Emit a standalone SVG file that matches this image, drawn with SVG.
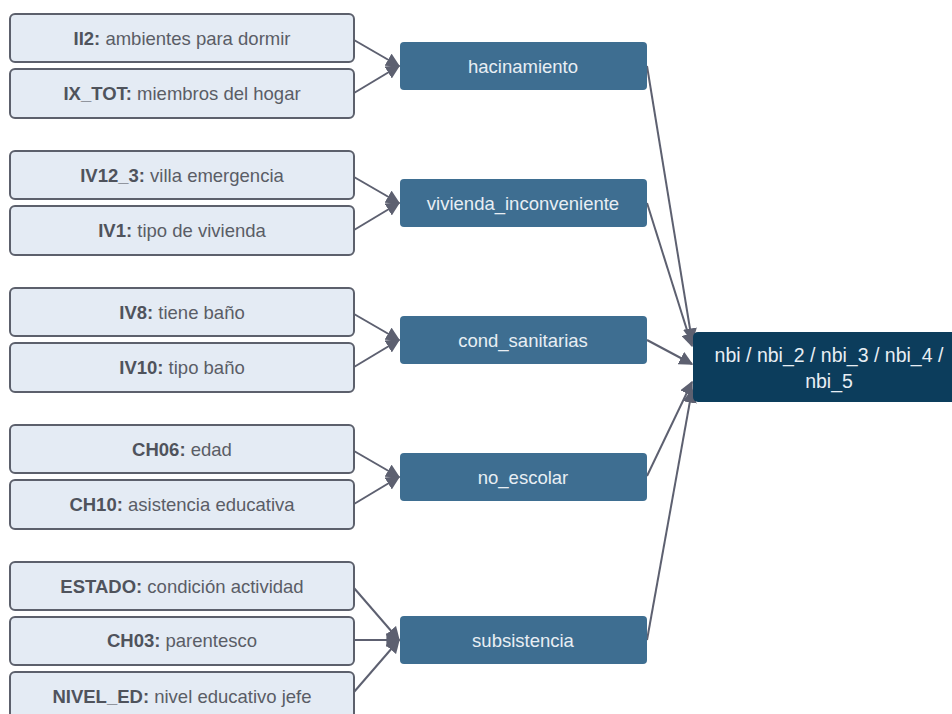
<svg xmlns="http://www.w3.org/2000/svg" width="952" height="714" viewBox="0 0 952 714">
<style>
.in rect{fill:#e4ebf4;stroke:#5c606c;stroke-width:2}
.in text{font-family:"Liberation Sans",Arial,sans-serif;font-size:18.5px;fill:#5a5d66;text-anchor:middle}
.in tspan.b{font-weight:bold;fill:#4f535c}
.mid rect{fill:#3e6e91}
.mid text{font-family:"Liberation Sans",Arial,sans-serif;font-size:18.5px;fill:#e8eef4;text-anchor:middle}
.fin text{font-family:"Liberation Sans",Arial,sans-serif;font-size:19.5px;fill:#e8eef4;text-anchor:middle}
.fin rect{fill:#0c3d5c}
.conn line{stroke:#5d6070;stroke-width:2;marker-end:url(#ah)}
</style>
<defs>
<marker id="ah" viewBox="0 0 10 10" refX="9" refY="5" markerWidth="7" markerHeight="7" orient="auto" markerUnits="strokeWidth">
<path d="M0,0 L10,5 L0,10 z" fill="#5d6070"/>
</marker>
</defs>
<rect width="952" height="714" fill="#ffffff"/>
<g class="conn">
<line x1="354" y1="40" x2="399" y2="66"/>
<line x1="354" y1="93" x2="399" y2="66"/>
<line x1="354" y1="177" x2="399" y2="203"/>
<line x1="354" y1="230" x2="399" y2="203"/>
<line x1="354" y1="314" x2="399" y2="340"/>
<line x1="354" y1="367" x2="399" y2="340"/>
<line x1="354" y1="451" x2="399" y2="477"/>
<line x1="354" y1="504" x2="399" y2="477"/>
<line x1="354" y1="588" x2="399" y2="640"/>
<line x1="354" y1="640" x2="399" y2="640"/>
<line x1="354" y1="692" x2="399" y2="640"/>
<line x1="647" y1="66" x2="692" y2="341"/>
<line x1="647" y1="203" x2="692" y2="346"/>
<line x1="647" y1="340" x2="692" y2="364"/>
<line x1="647" y1="476" x2="692" y2="382"/>
<line x1="647" y1="640" x2="692" y2="390"/>
</g>
<g id="n_ii2" class="in"><rect x="10" y="14" width="344" height="48" rx="5"/><text x="182" y="45"><tspan class="b">II2:</tspan> ambientes para dormir</text></g>
<g id="n_ixtot" class="in"><rect x="10" y="69" width="344" height="49" rx="5"/><text x="182" y="100"><tspan class="b">IX_TOT:</tspan> miembros del hogar</text></g>
<g id="n_iv12" class="in"><rect x="10" y="151" width="344" height="48" rx="5"/><text x="182" y="182"><tspan class="b">IV12_3:</tspan> villa emergencia</text></g>
<g id="n_iv1" class="in"><rect x="10" y="206" width="344" height="49" rx="5"/><text x="182" y="237"><tspan class="b">IV1:</tspan> tipo de vivienda</text></g>
<g id="n_iv8" class="in"><rect x="10" y="288" width="344" height="48" rx="5"/><text x="182" y="319"><tspan class="b">IV8:</tspan> tiene baño</text></g>
<g id="n_iv10" class="in"><rect x="10" y="343" width="344" height="49" rx="5"/><text x="182" y="374"><tspan class="b">IV10:</tspan> tipo baño</text></g>
<g id="n_ch06" class="in"><rect x="10" y="425" width="344" height="48" rx="5"/><text x="182" y="456"><tspan class="b">CH06:</tspan> edad</text></g>
<g id="n_ch10" class="in"><rect x="10" y="480" width="344" height="49" rx="5"/><text x="182" y="511"><tspan class="b">CH10:</tspan> asistencia educativa</text></g>
<g id="n_estado" class="in"><rect x="10" y="562" width="344" height="48" rx="5"/><text x="182" y="593"><tspan class="b">ESTADO:</tspan> condición actividad</text></g>
<g id="n_ch03" class="in"><rect x="10" y="617" width="344" height="48" rx="5"/><text x="182" y="647"><tspan class="b">CH03:</tspan> parentesco</text></g>
<g id="n_nivel" class="in"><rect x="10" y="672" width="344" height="50" rx="5"/><text x="182" y="703"><tspan class="b">NIVEL_ED:</tspan> nivel educativo jefe</text></g>
<g id="m_hac" class="mid"><rect x="400" y="42" width="247" height="48" rx="4"/><text x="523" y="73">hacinamiento</text></g>
<g id="m_viv" class="mid"><rect x="400" y="179" width="247" height="48" rx="4"/><text x="523" y="210">vivienda_inconveniente</text></g>
<g id="m_cond" class="mid"><rect x="400" y="316" width="247" height="48" rx="4"/><text x="523" y="347">cond_sanitarias</text></g>
<g id="m_noesc" class="mid"><rect x="400" y="453" width="247" height="48" rx="4"/><text x="523" y="484">no_escolar</text></g>
<g id="m_subs" class="mid"><rect x="400" y="616" width="247" height="48" rx="4"/><text x="523" y="647">subsistencia</text></g>
<g id="f_nbi" class="fin"><rect x="693" y="332" width="275" height="70" rx="5"/><text x="829" y="362">nbi / nbi_2 / nbi_3 / nbi_4 /</text><text x="829" y="388">nbi_5</text></g>
</svg>
